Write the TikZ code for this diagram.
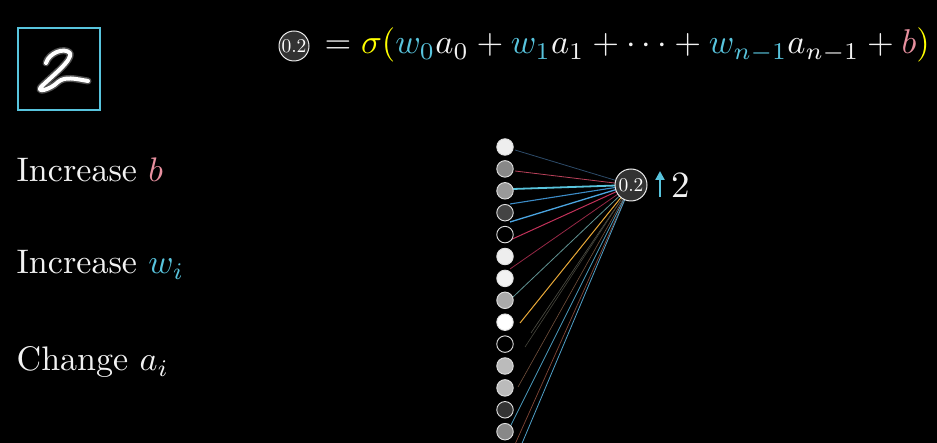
\documentclass[tikz,border=0pt]{standalone}
\usetikzlibrary{arrows.meta}
\definecolor{tbBlue}{HTML}{58C4DD}
\definecolor{tbYel}{HTML}{FFFF00}
\definecolor{tbPink}{HTML}{E8909F}
\definecolor{txt}{HTML}{F2F2F2}
\definecolor{neurfill}{HTML}{333333}
\tikzset{
  inneuron/.style={circle, draw=white!88!black, line width=0.9pt, minimum size=16.5pt, inner sep=0pt},
  valneuron/.style={circle, draw=white!92!black, fill=neurfill, line width=1pt, inner sep=0pt, text=white, minimum size=31pt},
  bigtext/.style={text=txt, scale=3.44, inner sep=0pt, anchor=base west},
  wire/.style={line width=0.8pt},
}
\begin{document}
\begin{tikzpicture}[x=1pt,y=-1pt]
\fill[black] (0,0) rectangle (937,443);
\useasboundingbox (0,0) rectangle (937,443);

% image box with digit
\node[draw=tbBlue, line width=2pt, minimum size=82pt, inner sep=0pt] (img) at (58.5,69) {};
\draw[white!70!black, line width=7pt, line cap=round, line join=round, opacity=0.45]
  (46,63) .. controls (49,53) and (64,47) .. (70,53)
  .. controls (73,60) and (52,76) .. (41,87)
  .. controls (36,93) and (50,90) .. (58,82)
  .. controls (65,76) and (76,79) .. (88,81);
\draw[white, line width=4pt, line cap=round, line join=round]
  (46,63) .. controls (49,53) and (64,47) .. (70,53)
  .. controls (73,60) and (52,76) .. (41,87)
  .. controls (36,93) and (50,90) .. (58,82)
  .. controls (65,76) and (76,79) .. (88,81);

% equation
\node[valneuron, minimum size=30pt] (eqn) at (294,46) {\scalebox{1.95}{0.2}};
\node[bigtext] (eq) at (324,54) {$= {\color{tbYel}\sigma(}{\color{tbBlue}w_0}a_0 + {\color{tbBlue}w_1}a_1 + \cdots + {\color{tbBlue}w_{n-1}}a_{n-1} + {\color{tbPink}b}{\color{tbYel})}$};

% left labels
\node[bigtext, scale=0.99] (lb) at (16,182) {Increase ${\color{tbPink}b}$};
\node[bigtext, scale=0.99] (lw) at (16,274) {Increase ${\color{tbBlue}w_i}$};
\node[bigtext, scale=0.99] (la) at (16,371) {Change $a_i$};

% wire start points and output centre
\coordinate (oc) at (631,185);
\coordinate (s1) at (515,150);
\coordinate (s2) at (515,171);
\coordinate (s3) at (513,189);
\coordinate (s4) at (510,204);
\coordinate (s5) at (510,222);
\coordinate (s6) at (508,241);
\coordinate (s7) at (510,269);
\coordinate (s8) at (513,297);
\coordinate (s9) at (520,323);
\coordinate (s10) at (525,347);
\coordinate (s10b) at (531,333);
\coordinate (s11) at (518,387);
\coordinate (s12) at (508,431);
\coordinate (s13) at (508,460);
\coordinate (s14) at (515,460);

\begin{scope}
\clip (0,0) rectangle (937,443);
\draw[wire, color={rgb,255:red,45;green,75;blue,105}] (s1) -- (oc);
\draw[wire, color={rgb,255:red,185;green,65;blue,90}] (s2) -- (oc);
\draw[wire, line width=1.8pt, tbBlue] (s3) -- (oc);
\draw[wire, line width=1.1pt, color={rgb,255:red,60;green,140;blue,200}] (s4) -- (oc);
\draw[wire, line width=1.3pt, color={rgb,255:red,75;green,165;blue,225}] (s5) -- (oc);
\draw[wire, line width=1.0pt, color={rgb,255:red,195;green,50;blue,90}] (s6) -- (oc);
\draw[wire, color={rgb,255:red,150;green,40;blue,70}] (s7) -- (oc);
\draw[wire, color={rgb,255:red,95;green,145;blue,145}] (s8) -- (oc);
\draw[wire, line width=1.0pt, color={rgb,255:red,232;green,168;blue,56}] (s9) -- (oc);
\draw[wire, line width=0.6pt, color={rgb,255:red,70;green,70;blue,60}] (s10) -- (oc);
\draw[wire, line width=0.6pt, color={rgb,255:red,80;green,80;blue,70}] (s10b) -- (oc);
\draw[wire, line width=0.6pt, color={rgb,255:red,115;green,80;blue,60}] (s11) -- (oc);
\draw[wire, color={rgb,255:red,75;green,155;blue,190}] (s12) -- (oc);
\draw[wire, line width=0.7pt, color={rgb,255:red,130;green,70;blue,55}] (s13) -- (oc);
\draw[wire, color={rgb,255:red,80;green,160;blue,200}] (s14) -- (oc);
\end{scope}

% input neurons
\foreach \i/\f in {0/EEEEEE,1/888888,2/999999,3/444444,4/000000,5/EEEEEE,6/F2F2F2,7/AAAAAA,8/FFFFFF,9/000000,10/BBBBBB,11/BBBBBB,12/333333,13/888888}{
  \definecolor{nf}{HTML}{\f}
  \node[inneuron, fill=nf] (n\i) at (505,147+21.9*\i) {};
}

% output neuron
\node[valneuron, minimum size=32pt] (out) at (oc) {\scalebox{1.95}{0.2}};
\coordinate (au) at (660,197);
\coordinate (at) at (660,171);
\draw[tbBlue, line width=2.2pt, -{Triangle[length=9pt,width=9pt]}] (au) -- (at);
\node[text=txt, scale=3.7, inner sep=0pt] (two) at (681,185) {2};
\end{tikzpicture}
\end{document}
